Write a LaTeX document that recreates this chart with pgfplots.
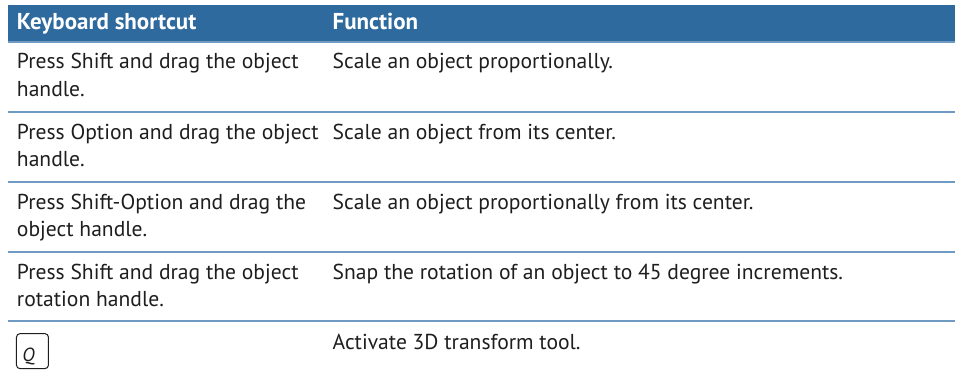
\documentclass[border=0pt]{standalone}
\usepackage{fontspec}
\setmainfont{PT Sans}
\usepackage{pgfplots}
\pgfplotsset{compat=1.18}
\definecolor{hdr}{HTML}{2E6A9E}
\definecolor{sep}{HTML}{6E9AC4}
\definecolor{txt}{HTML}{1E1E1E}
\tikzset{
  cell/.style={anchor=base west, inner sep=0pt, outer sep=0pt, text=txt, font=\fontsize{21.6}{25}\selectfont},
  head/.style={anchor=base west, inner sep=0pt, outer sep=0pt, text=white, font=\fontsize{23}{27}\bfseries\selectfont}
}
\begin{document}
\begin{tikzpicture}
\begin{axis}[
  width=956pt, height=381pt, scale only axis,
  xmin=0, xmax=956, ymin=0, ymax=381,
  hide axis, clip=false
]
% bounding corners
\addplot[draw=none] coordinates {(0,0) (956,381)};
% header band
\addplot[draw=none, fill=hdr] coordinates {(8,376) (956,376) (956,340) (8,340)} -- cycle;
% separators
\addplot[sep, line width=2pt] coordinates {(8,339) (956,339)};
\addplot[sep, line width=2pt] coordinates {(8,269) (956,269)};
\addplot[sep, line width=2pt] coordinates {(8,199) (956,199)};
\addplot[sep, line width=2pt] coordinates {(8,129) (956,129)};
\addplot[sep, line width=2pt] coordinates {(8,60) (956,60)};
% header text
\node[head] at (axis cs:17,351) {Keyboard shortcut};
\node[head] at (axis cs:333,351) {Function};
% row 1
\node[cell] at (axis cs:17,312) {Press Shift and drag the object};
\node[cell] at (axis cs:17,284) {handle.};
\node[cell] at (axis cs:333,312) {Scale an object proportionally.};
% row 2
\node[cell] at (axis cs:17,241) {Press Option and drag the object};
\node[cell] at (axis cs:17,214) {handle.};
\node[cell] at (axis cs:333,241) {Scale an object from its center.};
% row 3
\node[cell] at (axis cs:17,171) {Press Shift-Option and drag the};
\node[cell] at (axis cs:17,144) {object handle.};
\node[cell] at (axis cs:333,171) {Scale an object proportionally from its center.};
% row 4
\node[cell] at (axis cs:17,101) {Press Shift and drag the object};
\node[cell] at (axis cs:17,74) {rotation handle.};
\node[cell] at (axis cs:333,101) {Snap the rotation of an object to 45 degree increments.};
% row 5
\draw[txt, line width=1pt, rounded corners=3.5pt] (axis cs:16.5,12) rectangle (axis cs:48.5,47);
\node[cell, font=\fontsize{19}{21}\itshape\selectfont] at (axis cs:22.5,19) {Q};
\node[cell] at (axis cs:333,31) {Activate 3D transform tool.};
\end{axis}
\end{tikzpicture}
\end{document}
